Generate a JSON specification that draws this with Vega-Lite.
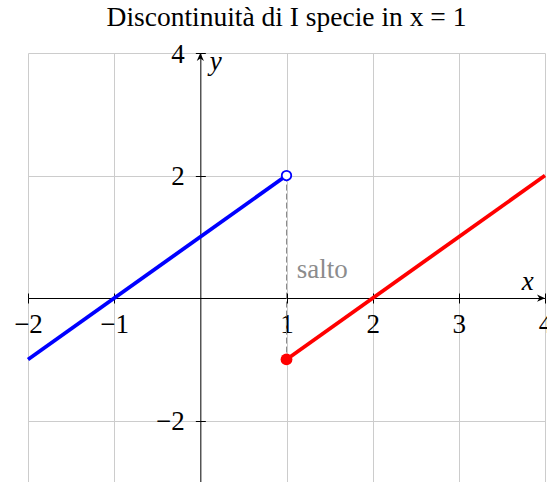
{
  "$schema": "https://vega.github.io/schema/vega-lite/v6.json",
  "width": 517,
  "height": 429,
  "autosize": {"type": "none"},
  "padding": {"left": 28, "top": 53, "right": 2, "bottom": 0},
  "title": {
    "text": "Discontinuità di I specie in x = 1",
    "font": "Liberation Serif",
    "fontSize": 27.5,
    "fontWeight": "normal",
    "color": "#000000",
    "anchor": "middle",
    "baseline": "alphabetic",
    "offset": -13
  },
  "config": {
    "view": {"stroke": null},
    "axis": {
      "labelFont": "Liberation Serif",
      "labelFontSize": 27,
      "labelColor": "#000000",
      "domainColor": "#000000",
      "domainWidth": 1,
      "tickColor": "#000000",
      "tickWidth": 1,
      "gridColor": "#cccccc",
      "gridWidth": 1,
      "labelFlush": false,
      "labelOverlap": false,
      "labelBound": false
    }
  },
  "resolve": {"axis": {"x": "independent", "y": "independent"}},
  "layer": [
    {
      "data": {"values": [{"x": -2, "y": -1}, {"x": 1, "y": 2}]},
      "mark": {"type": "line", "color": "#0000ff", "strokeWidth": 3.8},
      "encoding": {
        "x": {
          "field": "x", "type": "quantitative",
          "scale": {"domain": [-2, 4], "nice": false, "zero": false},
          "axis": {"orient": "bottom", "offset": -184, "values": [-2, -1, 1, 2, 3, 4], "grid": true, "tickSize": 5, "labelPadding": 8, "title": null}
        },
        "y": {
          "field": "y", "type": "quantitative",
          "scale": {"domain": [-3, 4], "nice": false, "zero": false},
          "axis": {"orient": "left", "offset": -172.33, "values": [-2, 2, 4], "grid": true, "tickSize": 5, "labelPadding": 11, "labelOffset": 1, "title": null}
        }
      }
    },
    {
      "data": {"values": [{"x": 1, "y": 2}, {"x": 1, "y": -1}]},
      "mark": {"type": "line", "color": "#8c8c8c", "strokeWidth": 1, "strokeDash": [6, 3]},
      "encoding": {
        "x": {
          "field": "x", "type": "quantitative",
          "axis": {"orient": "top", "offset": -245, "values": [-2, -1, 1, 2, 3, 4], "grid": false, "domain": false, "labels": false, "tickSize": 5, "title": null}
        },
        "y": {
          "field": "y", "type": "quantitative",
          "axis": {"orient": "right", "offset": -344.67, "values": [-2, 2, 4], "grid": false, "domain": false, "labels": false, "tickSize": 5, "title": null}
        }
      }
    },
    {
      "data": {"values": [{"x": 1, "y": -1}, {"x": 4, "y": 2}]},
      "mark": {"type": "line", "color": "#ff0000", "strokeWidth": 3.8},
      "encoding": {
        "x": {"field": "x", "type": "quantitative", "axis": null},
        "y": {"field": "y", "type": "quantitative", "axis": null}
      }
    },
    {
      "data": {"values": [{"x": 4, "y": 0}]},
      "mark": {"type": "point", "shape": "M0,0 L-2,-0.9 L-1.4,0 L-2,0.9 Z", "filled": true, "color": "#000000", "size": 64, "opacity": 1},
      "encoding": {
        "x": {"field": "x", "type": "quantitative", "axis": null},
        "y": {"field": "y", "type": "quantitative", "axis": null}
      }
    },
    {
      "data": {"values": [{"x": 0, "y": 4}]},
      "mark": {"type": "point", "shape": "M0,0 L-0.9,2 L0,1.4 L0.9,2 Z", "filled": true, "color": "#000000", "size": 64, "opacity": 1},
      "encoding": {
        "x": {"field": "x", "type": "quantitative", "axis": null},
        "y": {"field": "y", "type": "quantitative", "axis": null}
      }
    },
    {
      "data": {"values": [{"x": 1, "y": 2}]},
      "mark": {"type": "point", "shape": "circle", "filled": true, "fill": "#ffffff", "stroke": "#0000ff", "strokeWidth": 1.8, "size": 90, "opacity": 1},
      "encoding": {
        "x": {"field": "x", "type": "quantitative", "axis": null},
        "y": {"field": "y", "type": "quantitative", "axis": null}
      }
    },
    {
      "data": {"values": [{"x": 1, "y": -1}]},
      "mark": {"type": "point", "shape": "circle", "filled": true, "color": "#ff0000", "size": 140, "opacity": 1},
      "encoding": {
        "x": {"field": "x", "type": "quantitative", "axis": null},
        "y": {"field": "y", "type": "quantitative", "axis": null}
      }
    },
    {
      "data": {"values": [{"x": 1.118, "y": 0.33, "testo": "salto"}]},
      "mark": {"type": "text", "font": "Liberation Serif", "fontSize": 27, "color": "#8c8c8c", "align": "left", "baseline": "alphabetic"},
      "encoding": {
        "x": {"field": "x", "type": "quantitative", "axis": null},
        "y": {"field": "y", "type": "quantitative", "axis": null},
        "text": {"field": "testo"}
      }
    },
    {
      "data": {"values": [{"x": 3.8, "y": 0.13, "testo": "x"}, {"x": 0.18, "y": 3.72, "testo": "y"}]},
      "mark": {"type": "text", "font": "Liberation Serif", "fontStyle": "italic", "fontSize": 27, "color": "#000000", "align": "center", "baseline": "alphabetic"},
      "encoding": {
        "x": {"field": "x", "type": "quantitative", "axis": null},
        "y": {"field": "y", "type": "quantitative", "axis": null},
        "text": {"field": "testo"}
      }
    }
  ]
}
